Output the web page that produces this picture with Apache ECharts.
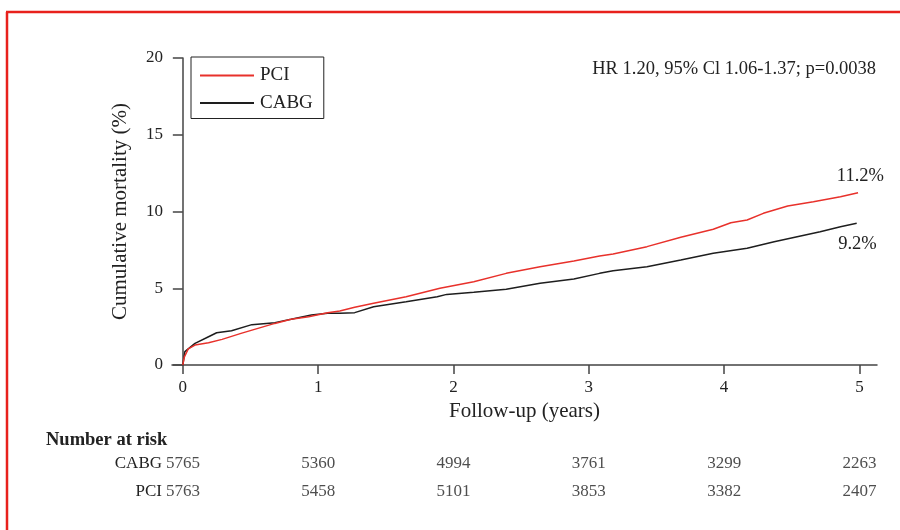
<!DOCTYPE html>
<html>
<head>
<meta charset="utf-8">
<script src="https://cdn.jsdelivr.net/npm/echarts@6/dist/echarts.min.js"></script>
<style>html,body{margin:0;padding:0;background:#fff}#c{width:900px;height:530px}</style>
</head>
<body>
<div id="c"></div>
<script>
// ---- data ----
const pciCurve = [[0,0],[0.01,0.5],[0.04,1.05],[0.09,1.3],[0.19,1.45],[0.29,1.67],[0.43,2.06],[0.53,2.32],[0.68,2.71],[0.80,2.98],[0.93,3.15],[1.07,3.41],[1.16,3.52],[1.27,3.76],[1.41,4.02],[1.65,4.45],[1.90,5.0],[2.15,5.43],[2.39,5.97],[2.64,6.40],[2.89,6.78],[3.08,7.1],[3.18,7.23],[3.43,7.71],[3.68,8.32],[3.92,8.84],[4.05,9.27],[4.17,9.45],[4.29,9.88],[4.47,10.36],[4.66,10.64],[4.86,10.96],[4.99,11.22]];
const cabgCurve = [[0,0],[0.015,0.87],[0.09,1.41],[0.19,1.84],[0.25,2.1],[0.36,2.23],[0.51,2.63],[0.68,2.76],[0.80,2.98],[0.95,3.26],[1.07,3.37],[1.16,3.37],[1.27,3.41],[1.41,3.80],[1.65,4.12],[1.88,4.45],[1.95,4.6],[2.15,4.74],[2.39,4.93],[2.64,5.32],[2.89,5.6],[3.08,5.97],[3.18,6.14],[3.43,6.40],[3.68,6.84],[3.92,7.28],[4.17,7.6],[4.37,8.03],[4.54,8.36],[4.71,8.68],[4.86,9.01],[4.98,9.23]];
const riskYears = [0,1,2,3,4,5];
const cabgRisk = [5765,5360,4994,3761,3299,2263];
const pciRisk = [5763,5458,5101,3853,3382,2407];
const xTicks = [0,1,2,3,4,5];
const yTicks = [0,5,10,15,20];
const riskRows = ['PCI','CABG'];
const endPCI = 11.2, endCABG = 9.2;
const statText = 'HR 1.20, 95% Cl 1.06-1.37; p=0.0038';

const FONT = '"Liberation Serif", "DejaVu Serif", serif';
const TXT = '#222';
const RED = '#e8312b';
const BLK = '#1e1e1e';
const AX = '#444';

const chart = echarts.init(document.getElementById('c'), null, {renderer:'canvas'});

const riskData = [];
riskYears.forEach((y,i)=>{
  riskData.push([y,'CABG',cabgRisk[i]]);
  riskData.push([y,'PCI',pciRisk[i]]);
});

const option = {
  backgroundColor:'#fff',
  animation:false,
  title:{
    text:'Number at risk', left:41, top:426,
    textStyle:{fontFamily:FONT, fontSize:18.5, fontWeight:'bold', color:TXT}
  },
  legend:{
    left:191, top:57, orient:'vertical',
    padding:[9,11,6,8],
    borderColor:'#222', borderWidth:1,
    itemWidth:54, itemHeight:14, itemGap:8.5,
    itemStyle:{opacity:0},
    textStyle:{fontFamily:FONT, fontSize:19, color:TXT, padding:[0,0,0,1]},
    data:['PCI','CABG']
  },
  grid:[
    {left:172, right:23, top:58, height:307},
    {left:183, right:23, top:450, height:55}
  ],
  xAxis:[
    {type:'value', gridIndex:0, min:-0.08, max:5.13,
     name:'Follow-up (years)', nameLocation:'middle', nameGap:35,
     nameTextStyle:{fontFamily:FONT, fontSize:21, color:TXT},
     axisLine:{lineStyle:{color:AX, width:1.5}},
     axisTick:{show:true, length:9, customValues:xTicks, lineStyle:{color:AX, width:1.5}},
     axisLabel:{customValues:xTicks, margin:14, fontFamily:FONT, fontSize:17, color:TXT},
     splitLine:{show:false}},
    {type:'value', gridIndex:1, min:0, max:5.13, show:false}
  ],
  yAxis:[
    {type:'value', gridIndex:0, min:0, max:20, interval:5,
     name:'Cumulative mortality (%)', nameLocation:'middle', nameGap:41,
     nameTextStyle:{fontFamily:FONT, fontSize:21, color:TXT},
     axisLine:{show:true, onZero:true, lineStyle:{color:AX, width:1.5}},
     axisTick:{show:true, length:10, lineStyle:{color:AX, width:1.5}},
     axisLabel:{margin:9, fontFamily:FONT, fontSize:17, color:TXT},
     splitLine:{show:false}},
    {type:'category', gridIndex:1, data:riskRows,
     axisLine:{show:false}, axisTick:{show:false},
     axisLabel:{margin:21, fontFamily:FONT, fontSize:17, color:TXT},
     splitLine:{show:false}}
  ],
  series:[
    {name:'PCI', type:'line', xAxisIndex:0, yAxisIndex:0, data:pciCurve,
     symbol:'none', lineStyle:{color:RED, width:1.5}, itemStyle:{color:RED}, z:3},
    {name:'CABG', type:'line', xAxisIndex:0, yAxisIndex:0, data:cabgCurve,
     symbol:'none', lineStyle:{color:BLK, width:1.5}, itemStyle:{color:BLK}, z:2},
    {name:'risk', type:'scatter', xAxisIndex:1, yAxisIndex:1, data:riskData,
     symbolSize:1, itemStyle:{color:'rgba(0,0,0,0)'},
     label:{show:true, position:'inside', formatter:p=>String(p.value[2]),
            fontFamily:FONT, fontSize:17, color:TXT}}
  ]
};
chart.setOption(option);

const pP = chart.convertToPixel({xAxisIndex:0, yAxisIndex:0},[5, endPCI]);
const pC = chart.convertToPixel({xAxisIndex:0, yAxisIndex:0},[5, endCABG]);
const pS = chart.convertToPixel({xAxisIndex:0, yAxisIndex:0},[5.13, 19.0]);
chart.setOption({
  graphic:[
    {type:'line', shape:{x1:7, y1:12, x2:7, y2:530}, style:{stroke:'#e8211c', lineWidth:2.5}},
    {type:'line', shape:{x1:6, y1:12, x2:900, y2:12}, style:{stroke:'#e8211c', lineWidth:2.5}},
    {type:'text', x:pP[0]+1, y:pP[1]-17, style:{text:endPCI.toFixed(1)+'%', font:'18.5px '+FONT, fill:TXT, align:'center', verticalAlign:'middle'}},
    {type:'text', x:pC[0]-2, y:pC[1]+20, style:{text:endCABG.toFixed(1)+'%', font:'18.5px '+FONT, fill:TXT, align:'center', verticalAlign:'middle'}},
    {type:'text', x:pS[0]-1, y:pS[1]-4, style:{text:statText, font:'18.5px '+FONT, fill:TXT, align:'right', verticalAlign:'middle'}}
  ]
});
</script>
</body>
</html>
